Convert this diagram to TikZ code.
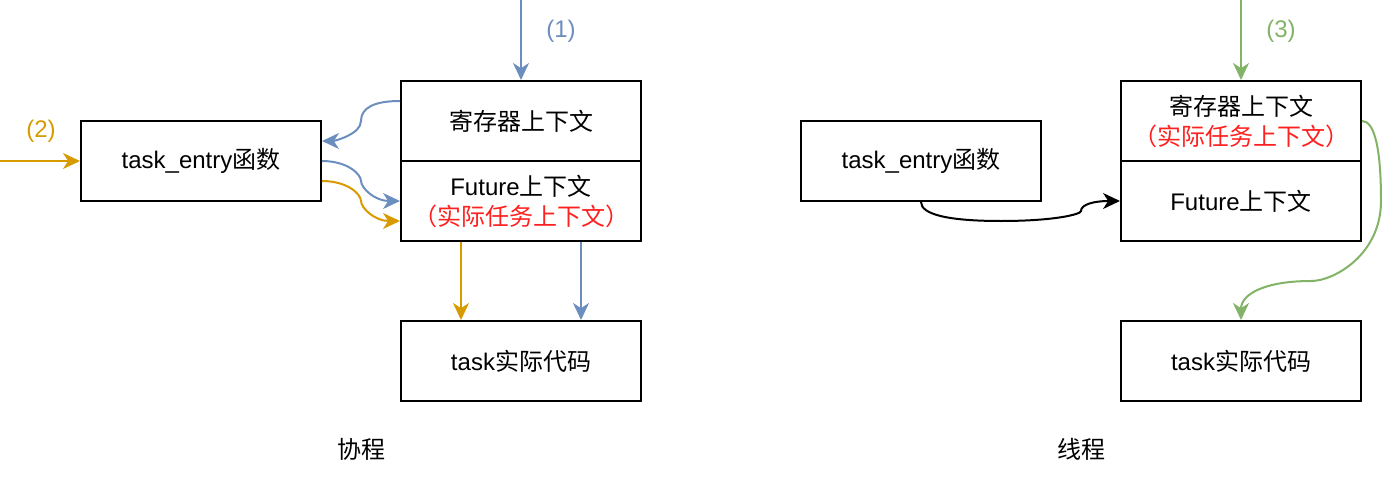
\documentclass[tikz,border=0pt]{standalone}
\usepackage{fontspec}
\setmainfont{Liberation Sans}
\newfontfamily\cjk{Noto Sans CJK SC}
\usetikzlibrary{arrows.meta}
\definecolor{cblue}{HTML}{6C8EBF}
\definecolor{corange}{HTML}{D79B00}
\definecolor{cgreen}{HTML}{82B366}
\definecolor{cred}{HTML}{FF2020}
\tikzset{
  box/.style={draw=black, line width=1pt, minimum width=120pt, minimum height=40pt,
    inner sep=0pt, align=center, fill=white},
  conn/.style={line width=1pt, -{Stealth[length=8.5pt,width=8pt,inset=2.6pt]}},
  lbl/.style={inner sep=0pt, align=center},
}
\begin{document}
\begin{tikzpicture}[x=0.5pt, y=-0.5pt, font=\fontsize{12}{15}\selectfont]
\useasboundingbox (0,0) rectangle (1382,482);

% ---------- left: coroutine ----------
\node[box] (te1)   at (201,161) {task\_entry{\cjk 函数}};
\node[box] (reg1)  at (521,121) {\cjk 寄存器上下文};
\node[box] (fut1)  at (521,201) {Future{\cjk 上下文}\\{\color{cred}\cjk （实际任务上下文）}};
\node[box] (code1) at (521,361) {task{\cjk 实际代码}};

\coordinate (s1) at (521,0);
\coordinate (s2) at (0,161);
\node[lbl, text=cblue]   (l1) at (561,31)  {(1)};
\node[lbl, text=corange] (l2) at (41,131)  {(2)};
\node[lbl] (cap1) at (361,449) {\cjk 协程};

\draw[conn, cblue] (s1) -- (reg1.north);
\draw[conn, corange] (s2) -- (te1.west);

\draw[conn, cblue] ([yshift=10pt]reg1.west)
  .. controls (374.33,101) and (361,107.67) .. (361,121)
  .. controls (361,134.33) and (334.33,141) .. ([yshift=10pt]te1.east);
\draw[conn, cblue] (te1.east)
  .. controls (347.67,161) and (361,174.33) .. (361,181)
  .. controls (361,187.67) and (374.33,201) .. (fut1.west);
\draw[conn, corange] ([yshift=-10pt]te1.east)
  .. controls (347.67,181) and (361,194.33) .. (361,201)
  .. controls (361,207.67) and (374.33,221) .. ([yshift=-10pt]fut1.west);

\draw[conn, corange] ([xshift=-30pt]fut1.south) -- ([xshift=-30pt]code1.north);
\draw[conn, cblue] ([xshift=30pt]fut1.south) -- ([xshift=30pt]code1.north);

% ---------- right: thread ----------
\node[box] (te2)   at (921,161) {task\_entry{\cjk 函数}};
\node[box] (reg2)  at (1241,121) {{\cjk 寄存器上下文}\\{\color{cred}\cjk （实际任务上下文）}};
\node[box] (fut2)  at (1241,201) {Future{\cjk 上下文}};
\node[box] (code2) at (1241,361) {task{\cjk 实际代码}};

\coordinate (s3) at (1241,0);
\node[lbl, text=cgreen] (l3) at (1281,31) {(3)};
\node[lbl] (cap2) at (1081,449) {\cjk 线程};

\draw[conn, cgreen] (s3) -- (reg2.north);

\draw[conn, black] (te2.south)
  .. controls (921,214.33) and (947.67,221) .. (1001,221)
  .. controls (1054.33,221) and (1081,214.33) .. (1081,211)
  .. controls (1081,204.33) and (1094.33,201) .. (fut2.west);

\draw[conn, cgreen] (reg2.east)
  .. controls (1374.33,121) and (1381,147.67) .. (1381,201)
  .. controls (1381,254.33) and (1334.33,281) .. (1311,281)
  .. controls (1264.33,281) and (1241,294.33) .. (code2.north);
\end{tikzpicture}
\end{document}
